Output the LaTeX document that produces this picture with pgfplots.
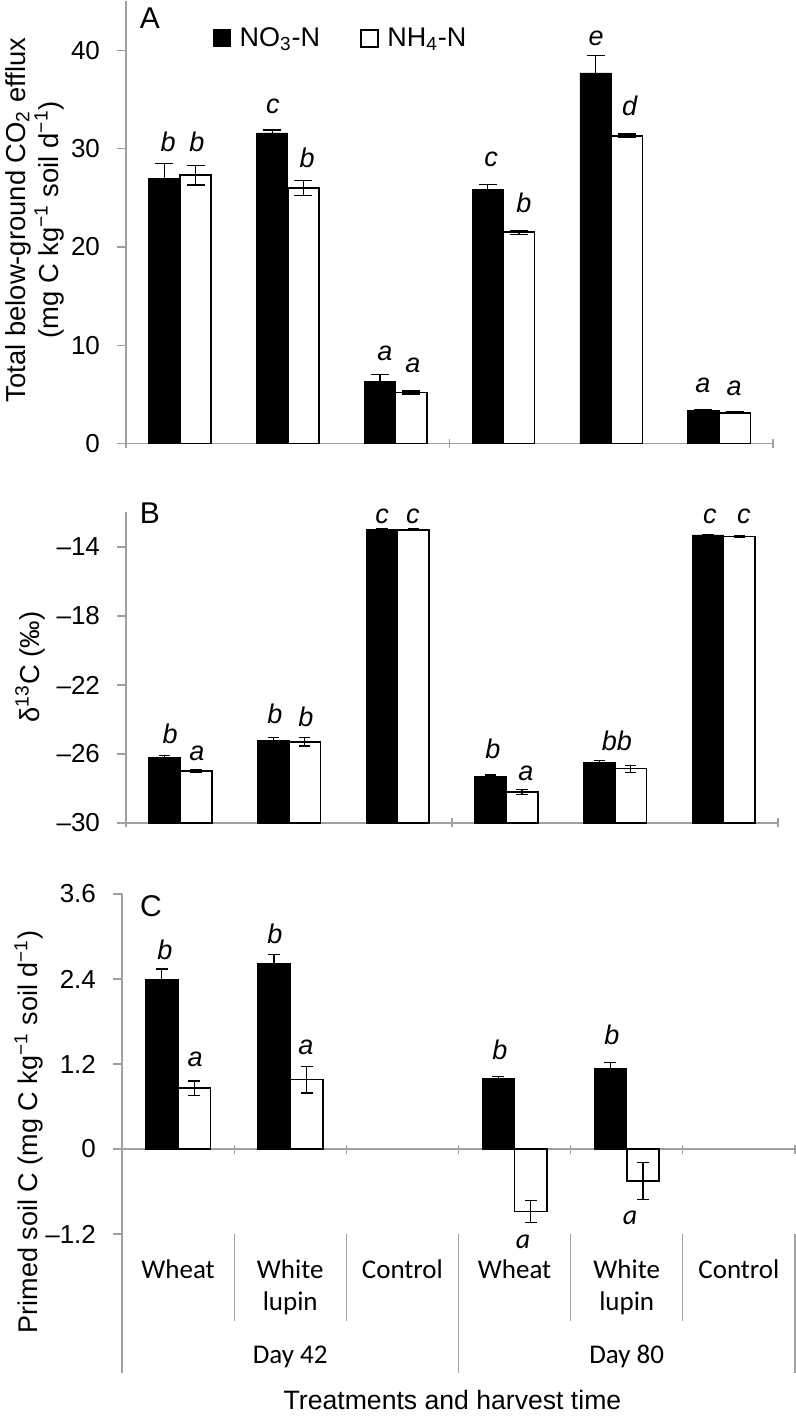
\documentclass[border=0pt]{standalone}
\usepackage{fontspec}
\setmainfont{Liberation Sans}
\newfontfamily\calibri{Carlito}
\usepackage{pgfplots}
\pgfplotsset{compat=1.18}
\usepackage{pgfplotstable}

\pgfplotstableread{
x no3 no3e nh4 nh4e
0 27.0 1.5 27.3 1.0
1 31.6 0.3 26.0 0.8
2 6.3 0.7 5.2 0.15
3 25.9 0.45 21.5 0.2
4 37.7 1.8 31.3 0.2
5 3.35 0.1 3.15 0.12
}\dataA
\pgfplotstableread{
x no3 no3e nh4 nh4e
0 -26.2 0.1 -27.0 0.08
1 -25.2 0.15 -25.3 0.24
2 -13.0 0.04 -13.0 0.04
3 -27.3 0.08 -28.2 0.15
4 -26.5 0.1 -26.85 0.2
5 -13.3 0.04 -13.4 0.06
}\dataB
\pgfplotstableread{
x no3 no3e nh4 nh4e
0 2.39 0.15 0.86 0.1
1 2.62 0.13 0.98 0.19
3 1.00 0.02 -0.88 0.155
4 1.14 0.08 -0.45 0.26
}\dataC

\definecolor{axgray}{RGB}{160,160,160}
\pgfplotsset{
  panel/.style={
    scale only axis, clip=false,
    xmin=-0.5, xmax=5.5,
    axis y line=left,
    tick style={axgray, line width=0.6pt},
    tick align=outside,
    major tick length=4.5pt,
    yticklabel style={font=\fontsize{13}{15}\selectfont, black, xshift=-5pt},
    ybar=0pt, bar width=0.29,
  },
  lines/.style={axis line style={axgray, line width=0.6pt, -}},
  no3/.style={fill=black, draw=black, bar shift=-0.145},
  nh4/.style={fill=white, draw=black, line width=0.8pt, bar shift=0.145},
  ebars/.style={error bars/.cd, y dir=both, y explicit,
    error bar style={black, line width=0.6pt},
    error mark options={rotate=90, black, mark size=#1, line width=0.6pt}},
}
\tikzset{sig/.style={font=\fontsize{13.5}{15}\selectfont\itshape, anchor=base, inner sep=0pt},
  cat/.style={font=\calibri\fontsize{13.5}{16}\selectfont, anchor=base, inner sep=0pt},
  sep/.style={axgray, line width=0.6pt}}

\begin{document}
\begin{tikzpicture}
\useasboundingbox (0,0) rectangle (398pt,708.5pt);

% Panel A
\begin{axis}[panel, at={(63pt,486.65pt)}, anchor=south west, width=323.5pt, height=221.25pt,
  ymin=0, ymax=45, ytick={0,10,20,30,40}, yticklabels={0,10,20,30,40},
  axis x line=bottom, lines, xtick={-0.5,2.5,5.5}, xticklabels={},
  legend style={at={(0.1345,0.916)}, anchor=west, draw=none, fill=none, inner sep=0pt,
    legend columns=2, font=\fontsize{13.5}{15}\selectfont,
    /tikz/every even column/.append style={column sep=18pt}},
  legend image code/.code={\draw[#1] (0pt,-4.25pt) rectangle (8.5pt,4.25pt);},
]
\addplot[no3, ebars=4.5pt] table[x=x, y=no3, y error=no3e] {\dataA};
\addlegendentry{\,NO\textsubscript{3}-N}
\addplot[nh4, ebars=4.5pt] table[x=x, y=nh4, y error=nh4e] {\dataA};
\addlegendentry{\,NH\textsubscript{4}-N}
\node[sig] at (axis cs:-0.11,29.7) {b};
\node[sig] at (axis cs:0.158,29.7) {b};
\node[sig] at (axis cs:0.863,33.6) {c};
\node[sig] at (axis cs:1.18,28.1) {b};
\node[sig] at (axis cs:1.90,8.5) {a};
\node[sig] at (axis cs:2.16,7.25) {a};
\node[sig] at (axis cs:2.885,28.2) {c};
\node[sig] at (axis cs:3.19,23.5) {b};
\node[sig] at (axis cs:3.86,40.5) {e};
\node[sig] at (axis cs:4.17,33.4) {d};
\node[sig] at (axis cs:4.85,5.2) {a};
\node[sig] at (axis cs:5.14,4.9) {a};
\end{axis}

% Panel B (bars drawn up from -30: values shifted by +30 for plotting)
\begin{axis}[panel, at={(63pt,297pt)}, anchor=south west, width=326pt, height=155.25pt,
  ymin=0, ymax=18, ytick={0,4,8,12,16}, yticklabels={–30,–26,–22,–18,–14},
  axis x line=bottom, lines, xtick={-0.5,2.5,5.5}, xticklabels={},
]
\addplot[no3, ebars=2.8pt] table[x=x, y expr=\thisrow{no3}+30, y error=no3e] {\dataB};
\addplot[nh4, ebars=2.8pt] table[x=x, y expr=\thisrow{nh4}+30, y error=nh4e] {\dataB};
\node[sig] at (axis cs:-0.095,4.62) {b};
\node[sig] at (axis cs:0.153,3.65) {a};
\node[sig] at (axis cs:0.871,5.78) {b};
\node[sig] at (axis cs:1.156,5.58) {b};
\node[sig] at (axis cs:1.856,17.37) {c};
\node[sig] at (axis cs:2.141,17.37) {c};
\node[sig] at (axis cs:2.877,3.75) {b};
\node[sig] at (axis cs:3.181,2.49) {a};
\node[sig] at (axis cs:4.018,4.23) {bb};
\node[sig] at (axis cs:4.874,17.37) {c};
\node[sig] at (axis cs:5.187,17.37) {c};
\end{axis}

% Panel C
\begin{axis}[panel, at={(61pt,91.5pt)}, anchor=south west, width=336.5pt, height=170pt,
  ymin=-1.2, ymax=3.6, ytick={-1.2,0,1.2,2.4,3.6}, yticklabels={–1.2,0,1.2,2.4,3.6},
  axis x line=middle, lines, xtick={-0.5,0.5,1.5,2.5,3.5,4.5,5.5}, xticklabels={},
]
\addplot[no3, ebars=3pt] table[x=x, y=no3, y error=no3e] {\dataC};
\addplot[nh4, ebars=3pt] table[x=x, y=nh4, y error=nh4e] {\dataC};
\node[sig] at (axis cs:-0.117,2.67) {b};
\node[sig] at (axis cs:0.151,1.17) {a};
\node[sig] at (axis cs:0.864,2.90) {b};
\node[sig] at (axis cs:1.140,1.33) {a};
\node[sig] at (axis cs:2.87,1.26) {b};
\node[sig] at (axis cs:3.868,1.47) {b};
\node[sig, font=\calibri\fontsize{14}{16}\selectfont\itshape] at (axis cs:3.075,-1.40) {a};
\node[sig, font=\calibri\fontsize{14}{16}\selectfont\itshape] at (axis cs:4.029,-1.06) {a};
% category axis separators
\draw[sep] (axis cs:0.5,-1.2) -- ([yshift=-43.5pt]axis cs:0.5,-1.2);
\draw[sep] (axis cs:1.5,-1.2) -- ([yshift=-43.5pt]axis cs:1.5,-1.2);
\draw[sep] (axis cs:3.5,-1.2) -- ([yshift=-43.5pt]axis cs:3.5,-1.2);
\draw[sep] (axis cs:4.5,-1.2) -- ([yshift=-43.5pt]axis cs:4.5,-1.2);
\draw[sep] (axis cs:-0.5,-1.2) -- ([yshift=-69.5pt]axis cs:-0.5,-1.2);
\draw[sep] (axis cs:2.5,-1.2) -- ([yshift=-69.5pt]axis cs:2.5,-1.2);
\draw[sep] (axis cs:5.5,-1.2) -- ([yshift=-69.5pt]axis cs:5.5,-1.2);
\node[cat, yshift=-22pt] at (axis cs:0,-1.2) {Wheat};
\node[cat, yshift=-22pt] at (axis cs:1,-1.2) {White};
\node[cat, yshift=-38pt] at (axis cs:1,-1.2) {lupin};
\node[cat, yshift=-22pt] at (axis cs:2,-1.2) {Control};
\node[cat, yshift=-22pt] at (axis cs:3,-1.2) {Wheat};
\node[cat, yshift=-22pt] at (axis cs:4,-1.2) {White};
\node[cat, yshift=-38pt] at (axis cs:4,-1.2) {lupin};
\node[cat, yshift=-22pt] at (axis cs:5,-1.2) {Control};
\node[cat, yshift=-64.5pt] at (axis cs:1,-1.2) {Day 42};
\node[cat, yshift=-64.5pt] at (axis cs:4,-1.2) {Day 80};
\node[anchor=base, inner sep=0pt, font=\fontsize{13.3}{15}\selectfont, yshift=-87.5pt, xshift=-3pt] at (axis cs:2.5,-1.2) {Treatments and harvest time};
\end{axis}

% panel letters
\node[font=\fontsize{15}{17}\selectfont, inner sep=0pt] at (75pt,699.5pt) {A};
\node[font=\fontsize{15}{17}\selectfont, inner sep=0pt] at (75pt,452pt) {B};
\node[font=\fontsize{15}{17}\selectfont, inner sep=0pt] at (75.5pt,255.5pt) {C};

% y axis labels
\node[rotate=90, align=center, inner sep=0pt, font=\fontsize{13.7}{16.5}\selectfont] at (17.25pt,598.5pt)
  {Total below-ground CO\textsubscript{2} efflux\\(mg C kg\textsuperscript{−1} soil d\textsuperscript{−1})};
\node[rotate=90, inner sep=0pt, font=\fontsize{13.7}{15}\selectfont] at (15pt,375pt)
  {δ\textsuperscript{13}C (‰)};
\node[rotate=90, inner sep=0pt, font=\fontsize{13.5}{15}\selectfont] at (14.5pt,142.5pt)
  {Primed soil C (mg C kg\textsuperscript{−1} soil d\textsuperscript{−1})};
\end{tikzpicture}
\end{document}
